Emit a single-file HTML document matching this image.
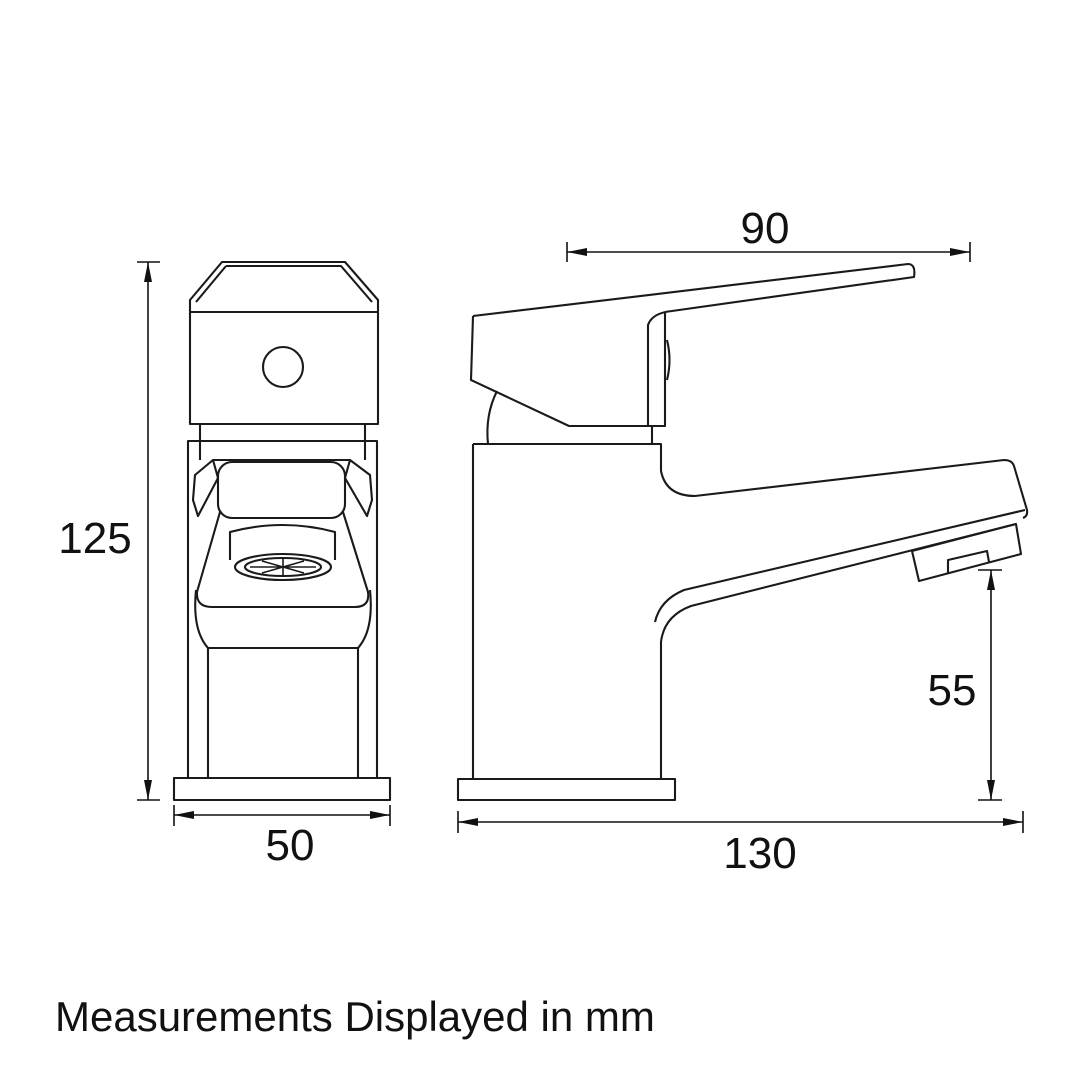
<!DOCTYPE html>
<html><head><meta charset="utf-8"><style>
html,body{margin:0;padding:0;background:#fff;width:1080px;height:1080px;overflow:hidden}
svg{display:block}
text{font-family:"Liberation Sans",sans-serif;fill:#111}
</style></head><body>
<svg width="1080" height="1080" viewBox="0 0 1080 1080" xmlns="http://www.w3.org/2000/svg">
<defs>
<marker id="a" viewBox="0 0 20 10" refX="20" refY="5" markerWidth="20" markerHeight="10" markerUnits="userSpaceOnUse" orient="auto-start-reverse"><path d="M0,1 L20,5 L0,9 z" fill="#111"/></marker>
</defs>
<g fill="none" stroke="#1a1a1a" stroke-width="2.1" stroke-linejoin="round">
<!-- FRONT VIEW -->
<path d="M222,262 L345,262 L378,300 L378,424 L190,424 L190,300 Z"/>
<path d="M226,266 L341,266 L372,302 M196,302 L226,266"/>
<line x1="190" y1="312" x2="378" y2="312"/>
<circle cx="283" cy="367" r="20"/>
<path d="M200,424 L200,441 M365,424 L365,441"/>
<rect x="188" y="441" width="189" height="337"/>
<path d="M200,441 L200,460 M365,441 L365,460"/>
<path d="M213,460 L350,460"/>
<rect x="218" y="462" width="127" height="56" rx="14"/>
<path d="M213,460 L195,475 L193,500 L198,516 L218,478 Z"/>
<path d="M350,460 L370,475 L372,500 L367,516 L345,478 Z"/>
<path d="M220,512 L197,592 Q196,607 212,607 L355,607 Q370,607 368,592 L343,512"/>
<path d="M196,590 Q192,630 208,648 L358,648 Q374,630 370,590"/>
<path d="M208,648 L208,778 M358,648 L358,778"/>
<path d="M230,560 L230,532 Q283,518 335,532 L335,560"/>
<ellipse cx="283" cy="567" rx="48" ry="13"/>
<ellipse cx="283" cy="567" rx="38" ry="9"/>
<path d="M250,567 L316,567 M283,559 L283,575 M262,561 L304,573 M262,573 L304,561" stroke-width="1.6"/>
<rect x="174" y="778" width="216" height="22"/>
<!-- SIDE VIEW -->
<path d="M473,316 L908,264 Q916,264 914,277 L672,311 Q652,313 648,325 L648,426 L665,426 L665,312"/>
<path d="M473,316 L471,380 L569,426 L648,426"/>
<path d="M667,340 Q672,360 667,380"/>
<path d="M497,391 Q485,415 488,444"/>
<line x1="652" y1="426" x2="652" y2="444"/>
<path d="M473,444 L661,444 L661,471 Q666,496 695,496 L1004,460 Q1012,460 1014,466 L1027,510 Q1028,516 1023,518"/>
<path d="M1025,510 L684,590 Q660,600 655,622"/>
<path d="M1016,524 L691,606 Q664,616 661,642 L661,779"/>
<path d="M912,551 L1016,524 L1021,554 L919,581 Z"/>
<path d="M948,574 L948,560 L987,551 L989,562"/>
<line x1="473" y1="444" x2="473" y2="779"/>
<rect x="458" y="779" width="217" height="21"/>
</g>
<!-- DIMENSIONS -->
<g stroke="#111" stroke-width="1.6" fill="none">
<line x1="148" y1="262" x2="148" y2="800" marker-start="url(#a)" marker-end="url(#a)"/>
<path d="M137,262 L160,262 M137,800 L160,800"/>
<line x1="174" y1="815" x2="390" y2="815" marker-start="url(#a)" marker-end="url(#a)"/>
<path d="M174,805 L174,826 M390,805 L390,826"/>
<line x1="567" y1="252" x2="970" y2="252" marker-start="url(#a)" marker-end="url(#a)"/>
<path d="M567,242 L567,262 M970,242 L970,262"/>
<line x1="458" y1="822" x2="1023" y2="822" marker-start="url(#a)" marker-end="url(#a)"/>
<path d="M458,811 L458,833 M1023,811 L1023,833"/>
<line x1="991" y1="570" x2="991" y2="800" marker-start="url(#a)" marker-end="url(#a)"/>
<path d="M978,570 L1002,570 M978,800 L1002,800"/>
</g>
<g font-size="44" text-anchor="middle">
<text x="95" y="553">125</text>
<text x="290" y="860">50</text>
<text x="765" y="243">90</text>
<text x="760" y="868">130</text>
<text x="952" y="705">55</text>
</g>
<text x="55" y="1031" font-size="42">Measurements Displayed in mm</text>
</svg>
</body></html>
